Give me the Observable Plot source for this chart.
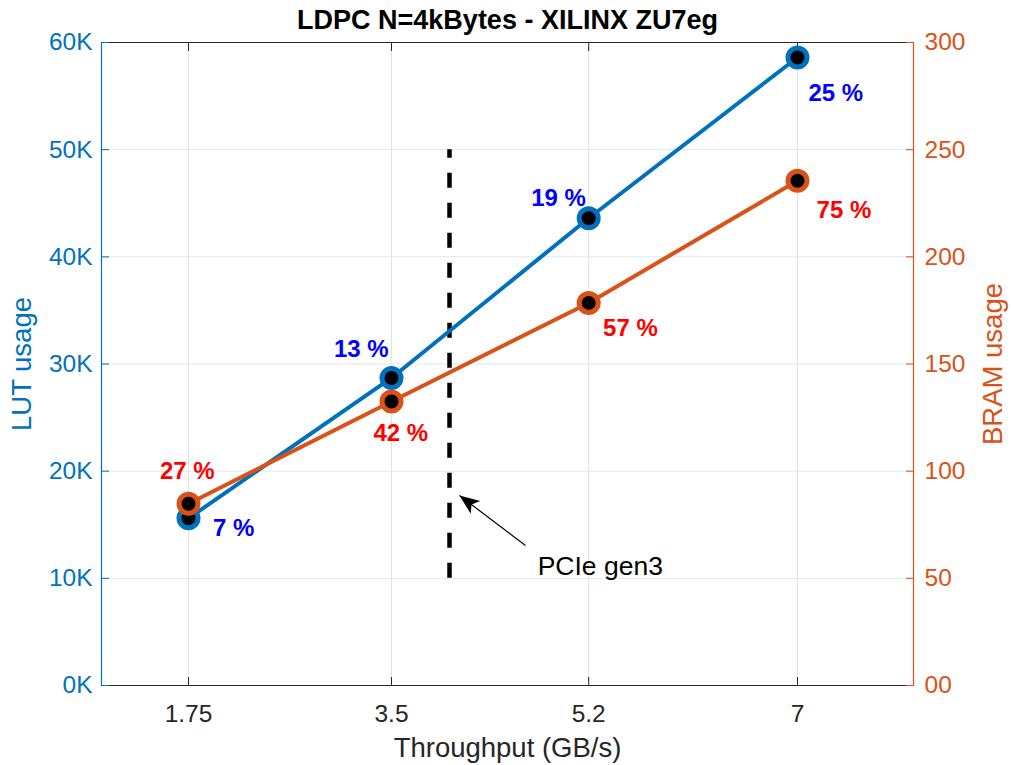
<!DOCTYPE html>
<html><head><meta charset="utf-8">
<script src="https://cdn.jsdelivr.net/npm/d3@7"></script>
<script src="https://cdn.jsdelivr.net/npm/@observablehq/plot@0.6"></script>
<style>
body{margin:0;background:#fff}
#chart svg{font-family:"Liberation Sans",Arial,Helvetica,sans-serif;background:#fff}
</style>
</head><body><div id="chart"></div>
<script>
// ---- data ----
const title = "LDPC N=4kBytes - XILINX ZU7eg";
const throughput = [1.75, 3.5, 5.2, 7];
const xTickLabels = ["1.75", "3.5", "5.2", "7"];
const lutUsage = [15600, 28700, 43600, 58600];
const bramUsage = [84.8, 132.5, 178.5, 235.5];
const lutPercent = ["7 %", "13 %", "19 %", "25 %"];
const bramPercent = ["27 %", "42 %", "57 %", "75 %"];
// label anchor positions in data units (as placed in the original figure)
const lutLabelX = [2.14, 3.24, 4.94, 7.33];
const lutLabelY = [14700, 31350, 45500, 55300];
const bramLabelX = [1.74, 3.58, 5.56, 7.40];
const bramLabelY = [99.8, 117.6, 166.6, 221.6];
const lutTicks = [0, 10000, 20000, 30000, 40000, 50000, 60000];
const lutTickLabels = ["0K", "10K", "20K", "30K", "40K", "50K", "60K"];
const bramTicks = [0, 50, 100, 150, 200, 250, 300];
const bramTickLabels = ["00", "50", "100", "150", "200", "250", "300"];
const xDomain = [1, 8];
const lutDomain = [0, 60000];
const bramDomain = [0, 300];
const pcieX = 4;
const pcieRange = [10000, 50000];
const arrowTail = [4.655, 13060];
const arrowHead = [4.086, 17730];
const pcieText = "PCIe gen3";
const pcieTextPos = [4.76, 11100];
const xLabel = "Throughput (GB/s)";
const lutLabel = "LUT usage";
const bramLabel = "BRAM usage";

// ---- derived ----
const k = lutDomain[1] / bramDomain[1]; // maps BRAM onto the LUT scale
const lutData = throughput.map((x, i) => ({x, y: lutUsage[i]}));
const bramData = throughput.map((x, i) => ({x, y: bramUsage[i] * k}));
const lutLabels = lutPercent.map((t, i) => ({x: lutLabelX[i], y: lutLabelY[i], t}));
const bramLabels = bramPercent.map((t, i) => ({x: bramLabelX[i], y: bramLabelY[i] * k, t}));

const BLUE = "#0072BD", ORANGE = "#D95319", DARK = "#262626";

const arrowSymbol = {
  draw(ctx) {
    ctx.moveTo(0, 0);
    ctx.lineTo(-8, 20);
    ctx.lineTo(0, 15);
    ctx.lineTo(8, 20);
    ctx.closePath();
  }
};

const chart = Plot.plot({
  width: 1011,
  height: 765,
  marginLeft: 101,
  marginRight: 98,
  marginTop: 42,
  marginBottom: 80,
  style: {fontFamily: '"Liberation Sans",Arial,sans-serif', fontSize: "24px", background: "#fff"},
  x: {domain: xDomain, axis: null},
  y: {domain: lutDomain, axis: null},
  marks: [
    Plot.gridY(lutTicks, {stroke: "#dde8f1", strokeOpacity: 1}),
    Plot.gridX(throughput, {stroke: "#e2e2e2", strokeOpacity: 1}),
    // frame
    Plot.ruleY([lutDomain[0], lutDomain[1]], {stroke: DARK, strokeWidth: 1.2}),
    Plot.ruleX([xDomain[0]], {stroke: BLUE, strokeWidth: 1.2}),
    Plot.ruleX([xDomain[1]], {stroke: ORANGE, strokeWidth: 1.2}),
    // inward ticks
    Plot.axisX({anchor: "bottom", label: null, ticks: throughput, tickSize: -8, tickFormat: () => "", color: DARK}),
    Plot.axisX({anchor: "top", label: null, ticks: throughput, tickSize: -8, tickFormat: () => "", color: DARK}),
    Plot.axisY({anchor: "left", label: null, ticks: lutTicks, tickSize: -8, tickFormat: () => "", color: BLUE}),
    Plot.axisY({anchor: "right", label: null, ticks: bramTicks.map(v => v * k), tickSize: -8, tickFormat: () => "", color: ORANGE}),
    // tick labels
    Plot.axisX({anchor: "bottom", label: null, ticks: throughput, tickSize: 0, tickPadding: 19,
      tickFormat: d => xTickLabels[throughput.indexOf(d)], color: DARK, fontSize: 24.5}),
    Plot.axisY({anchor: "left", label: null, ticks: lutTicks, tickSize: 0, tickPadding: 9,
      tickFormat: d => lutTickLabels[lutTicks.indexOf(d)], color: BLUE, fontSize: 24.5}),
    Plot.axisY({anchor: "right", label: null, ticks: bramTicks.map(v => v * k), tickSize: 0, tickPadding: 11,
      tickFormat: d => bramTickLabels[bramTicks.indexOf(d / k)], color: ORANGE, fontSize: 24.5}),
    // axis titles
    Plot.text([xLabel], {frameAnchor: "bottom", lineAnchor: "middle", textAnchor: "middle", dy: 63, fill: DARK, fontSize: 27.5}),
    Plot.text([lutLabel], {frameAnchor: "left", lineAnchor: "middle", textAnchor: "middle", dx: -79, rotate: -90, fill: BLUE, fontSize: 27.5}),
    Plot.text([bramLabel], {frameAnchor: "right", lineAnchor: "middle", textAnchor: "middle", dx: 80, rotate: -90, fill: ORANGE, fontSize: 27.5}),
    Plot.text([title], {frameAnchor: "top", lineAnchor: "middle", textAnchor: "middle", dy: -22, fill: "#000", fontSize: 27, fontWeight: "bold"}),
    // PCIe marker
    Plot.ruleX([pcieX], {y1: pcieRange[0], y2: pcieRange[1], stroke: "#000", strokeWidth: 4.5, strokeDasharray: "15,15"}),
    Plot.link([{}], {x1: arrowTail[0], y1: arrowTail[1], x2: arrowHead[0], y2: arrowHead[1], stroke: "#000", strokeWidth: 1.2}),
    Plot.dot([{}], {x: arrowHead[0], y: arrowHead[1], symbol: arrowSymbol, fill: "#000", stroke: "none", rotate: -53.3}),
    Plot.text([pcieText], {x: pcieTextPos[0], y: pcieTextPos[1], textAnchor: "start", fill: "#000", fontSize: 26.5}),
    // series
    Plot.line(lutData, {x: "x", y: "y", stroke: BLUE, strokeWidth: 4}),
    Plot.dot(lutData, {x: "x", y: "y", r: 9.5, fill: "#000", stroke: BLUE, strokeWidth: 5}),
    Plot.line(bramData, {x: "x", y: "y", stroke: ORANGE, strokeWidth: 4}),
    Plot.dot(bramData, {x: "x", y: "y", r: 9.5, fill: "#000", stroke: ORANGE, strokeWidth: 5}),
    // percentage labels
    Plot.text(lutLabels, {x: "x", y: "y", text: "t", fill: "#0000FF", fontWeight: "bold", fontSize: 24}),
    Plot.text(bramLabels, {x: "x", y: "y", text: "t", fill: "#FF0000", fontWeight: "bold", fontSize: 24})
  ]
});
document.getElementById("chart").appendChild(chart);
</script>
</body></html>
